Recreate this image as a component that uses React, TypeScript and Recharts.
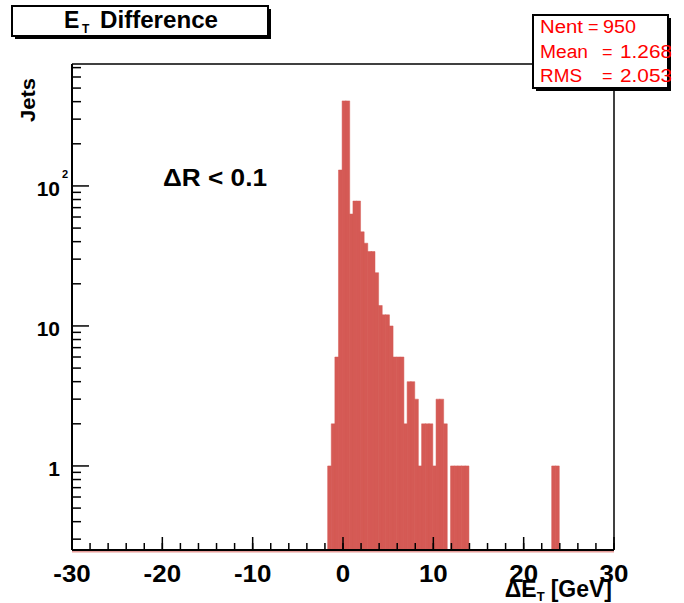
import { BarChart, Bar, XAxis, YAxis, ReferenceLine } from "recharts";

// bin centres (GeV, 0.4 GeV bins) and jet counts
const binCenters = [
  -1.5, -1.1, -0.7, -0.3, 0.1, 0.5, 0.9, 1.3, 1.7, 2.1, 2.5, 2.9, 3.3, 3.7, 4.1, 4.5, 4.9, 5.3, 5.7, 6.1,
  6.5, 6.9, 7.3, 7.7, 8.1, 8.5, 8.9, 9.3, 9.7, 10.1, 10.5, 10.9, 11.3, 11.7, 12.1, 12.5, 12.9, 13.3, 13.7,
  23.3, 23.7,
];
const jetCounts: (number | null)[] = [
  1, 2, 6, 130, 405, 405, 63, 78, 78, 47, 39, 34, 34, 24, 14, 12, 12, 10, 6, 6,
  6, 2, 4, 4, 3, 1, 2, 2, 2, 1, 3, 3, 2, null, 1, 1, 1, 1, 1,
  1, 1,
];

const xMajorTicks = [-30, -20, -10, 0, 10, 20, 30];
const xMinorTicks = [
  -30, -28, -26, -24, -22, -20, -18, -16, -14, -12, -10, -8, -6, -4, -2, 0, 2, 4, 6, 8, 10, 12, 14, 16,
  18, 20, 22, 24, 26, 28, 30,
];
const yMajorTicks = [1, 10, 100];
const yTickBase = ["1", "10", "10"];
const yTickExp = ["", "", "2"];
const yMinorTicks = [
  0.3, 0.4, 0.5, 0.6, 0.7, 0.8, 0.9, 2, 3, 4, 5, 6, 7, 8, 9, 20, 30, 40, 50, 60, 70, 80, 90, 200, 300,
  400, 500, 600, 700,
];

const statsLabels = ["Nent", "Mean", "RMS"];
const statsValues = ["950", "1.268", "2.053"];

const X_DOMAIN: [number, number] = [-30, 30];
const Y_DOMAIN: [number, number] = [0.251, 743];
const FONT = "'Liberation Sans', Arial, Helvetica, sans-serif";
const BAR_COLOR = "#d55a55";
const tickStyle = { stroke: "#000", strokeWidth: 1.5 };

const data = binCenters.map((x, i) => ({ x, jets: jetCounts[i] }));

// tick marks only, no label
const NoLabel = () => <g />;

function XTick({ x, y, payload }: any) {
  return (
    <text
      transform={`translate(${x},${y}) scale(1.08,1)`}
      textAnchor="middle"
      fontFamily={FONT}
      fontWeight="bold"
      fontSize={24}
      fill="#000"
    >
      {payload.value}
    </text>
  );
}

function YTick({ x, y, payload }: any) {
  const i = yMajorTicks.indexOf(payload.value);
  return (
    <g>
      <text x={x} y={y + 10} textAnchor="end" fontFamily={FONT} fontWeight="bold" fontSize={21} fill="#000">
        {yTickBase[i]}
      </text>
      {yTickExp[i] && (
        <text x={x + 2} y={y - 8} fontFamily={FONT} fontWeight="bold" fontSize={11} fill="#000">
          {yTickExp[i]}
        </text>
      )}
    </g>
  );
}

function Overlay() {
  return (
    <svg
      width={684}
      height={603}
      style={{ position: "absolute", left: 0, top: 0, pointerEvents: "none" }}
      fontFamily={FONT}
    >
      {/* title box */}
      <rect x={15} y={9} width={256} height={30} fill="#000" />
      <rect x={12} y={6} width={256} height={30} fill="#fff" stroke="#000" strokeWidth={2} />
      <text x={64} y={28} fontWeight="bold" fontSize={23} fill="#000">E</text>
      <text x={82} y={33} fontWeight="bold" fontSize={12} fill="#000">T</text>
      <text x={100} y={28} fontWeight="bold" fontSize={23} fill="#000" textLength={118} lengthAdjust="spacingAndGlyphs">
        Difference
      </text>

      {/* stats box */}
      <rect x={536} y={18} width={135} height={73} fill="#000" />
      <rect x={533} y={15} width={135} height={73} fill="#fff" stroke="#000" strokeWidth={2} />
      {statsLabels.map((lab, i) => {
        const base = 33 + i * 24.5;
        return (
          <g key={lab} fill="#ff0000" fontSize={18}>
            <text x={540} y={base} textLength={lab === "Mean" ? 48 : lab === "RMS" ? 42 : 43} lengthAdjust="spacingAndGlyphs">
              {lab}
            </text>
            <text x={i === 0 ? 588 : 602} y={base}>=</text>
            <text x={i === 0 ? 603 : 620} y={base} textLength={i === 0 ? 33 : 52} lengthAdjust="spacingAndGlyphs">
              {statsValues[i]}
            </text>
          </g>
        );
      })}

      {/* cut annotation */}
      <text x={163} y={186} fontWeight="bold" fontSize={24} fill="#000" textLength={104} lengthAdjust="spacingAndGlyphs">
        ΔR &lt; 0.1
      </text>

      {/* y axis title */}
      <text
        transform="rotate(-90)"
        x={-122}
        y={35}
        fontWeight="bold"
        fontSize={21}
        fill="#000"
        textLength={44}
        lengthAdjust="spacingAndGlyphs"
      >
        Jets
      </text>

      {/* x axis title */}
      <text x={612} y={597} textAnchor="end" fontWeight="bold" fontSize={23} fill="#000">
        ΔE
        <tspan fontSize={13} dy={4}>T</tspan>
        <tspan dy={-4} dx={6}>[GeV]</tspan>
      </text>
    </svg>
  );
}

export default function App() {
  return (
    <div style={{ position: "fixed", left: 0, top: 0, width: 684, height: 603, background: "#fff" }}>
      <BarChart
        width={684}
        height={603}
        data={data}
        margin={{ top: 64, right: 70, bottom: 0, left: 0 }}
        barCategoryGap={0}
        barGap={0}
      >
        <XAxis
          dataKey="x"
          type="number"
          domain={X_DOMAIN}
          allowDataOverflow
          ticks={xMajorTicks}
          interval={0}
          height={53}
          tickLine={false}
          tickSize={0}
          tickMargin={32}
          axisLine={{ stroke: "#000", strokeWidth: 2 }}
          tick={<XTick />}
        />
        <XAxis
          xAxisId="xmajor"
          dataKey="x"
          type="number"
          domain={X_DOMAIN}
          allowDataOverflow
          ticks={xMajorTicks}
          interval={0}
          mirror
          height={1}
          axisLine={false}
          tick={NoLabel}
          tickSize={13}
          tickLine={tickStyle}
        />
        <XAxis
          xAxisId="xminor"
          dataKey="x"
          type="number"
          domain={X_DOMAIN}
          allowDataOverflow
          ticks={xMinorTicks}
          interval={0}
          mirror
          height={1}
          axisLine={false}
          tick={NoLabel}
          tickSize={6}
          tickLine={tickStyle}
        />
        <XAxis
          xAxisId="top"
          dataKey="x"
          orientation="top"
          type="number"
          domain={X_DOMAIN}
          allowDataOverflow
          ticks={xMajorTicks}
          mirror
          height={1}
          tick={false}
          tickLine={false}
          axisLine={{ stroke: "#000", strokeWidth: 1.5 }}
        />
        <YAxis
          type="number"
          scale="log"
          domain={Y_DOMAIN}
          allowDataOverflow
          ticks={yMajorTicks}
          interval={0}
          width={72}
          tickLine={false}
          tickSize={0}
          tickMargin={12}
          axisLine={{ stroke: "#000", strokeWidth: 2 }}
          tick={<YTick />}
        />
        <YAxis
          yAxisId="ymajor"
          type="number"
          scale="log"
          domain={Y_DOMAIN}
          allowDataOverflow
          ticks={yMajorTicks}
          interval={0}
          mirror
          width={1}
          axisLine={false}
          tick={NoLabel}
          tickSize={17}
          tickLine={tickStyle}
        />
        <YAxis
          yAxisId="yminor"
          type="number"
          scale="log"
          domain={Y_DOMAIN}
          allowDataOverflow
          ticks={yMinorTicks}
          interval={0}
          mirror
          width={1}
          axisLine={false}
          tick={NoLabel}
          tickSize={8}
          tickLine={tickStyle}
        />
        <YAxis
          yAxisId="right"
          orientation="right"
          type="number"
          scale="log"
          domain={Y_DOMAIN}
          allowDataOverflow
          ticks={yMajorTicks}
          mirror
          width={1}
          tick={false}
          tickLine={false}
          axisLine={{ stroke: "#000", strokeWidth: 1.5 }}
        />
        <Bar dataKey="jets" fill={BAR_COLOR} stroke={BAR_COLOR} strokeWidth={0.5} isAnimationActive={false} />
        <ReferenceLine y={0.245} stroke={BAR_COLOR} strokeOpacity={0.6} strokeWidth={2} ifOverflow="visible" />
      </BarChart>
      <Overlay />
    </div>
  );
}
